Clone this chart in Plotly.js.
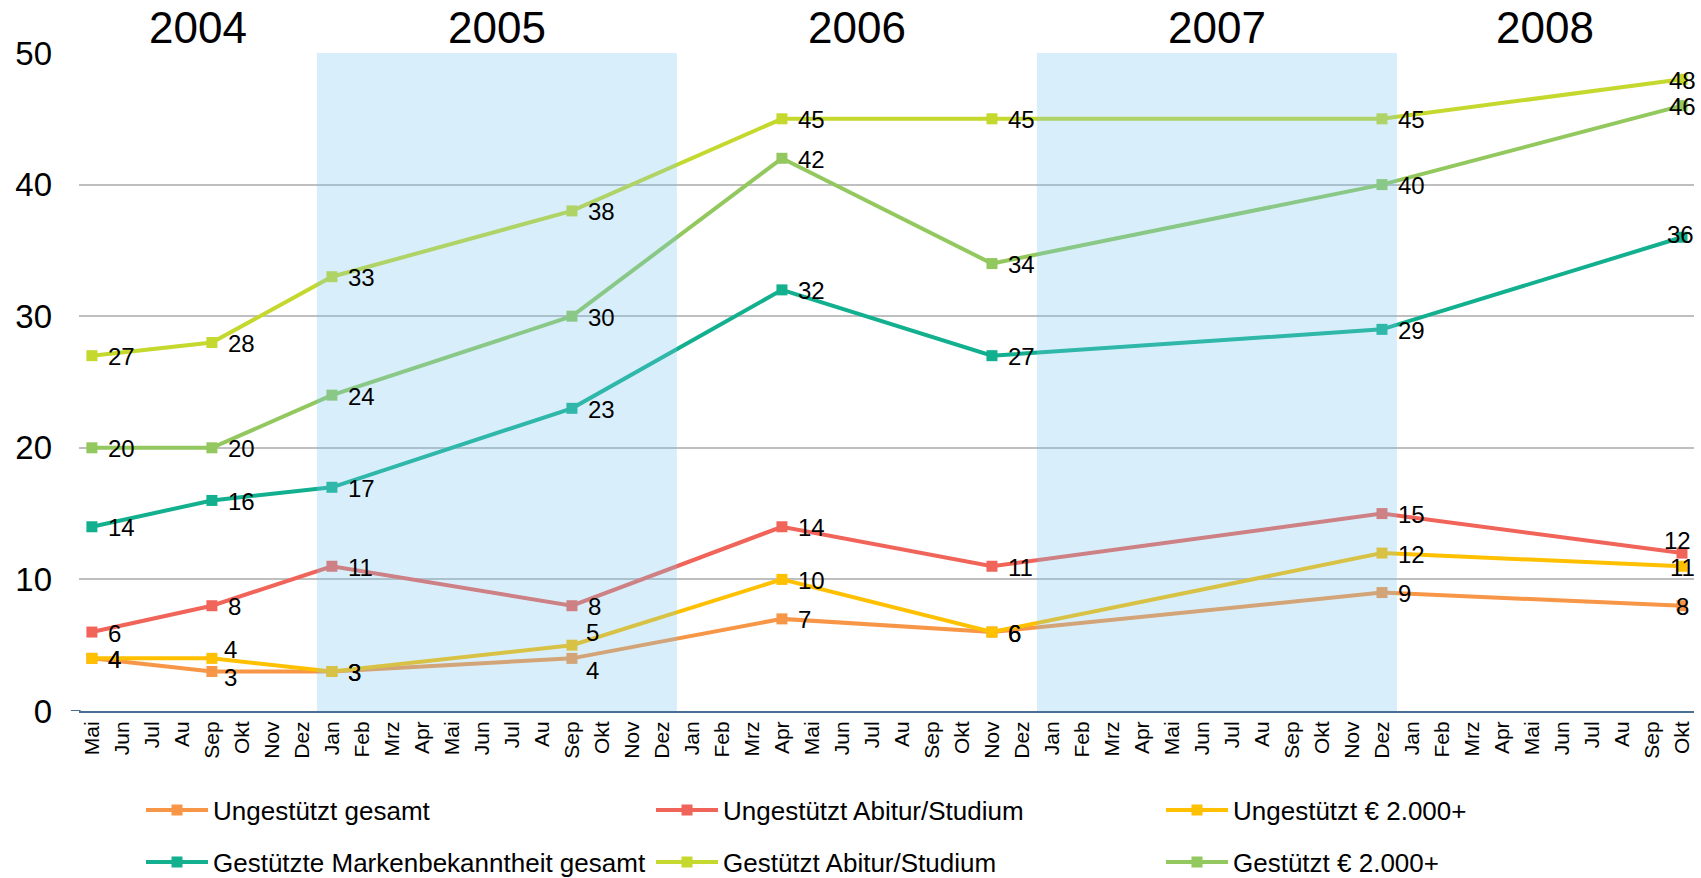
<!DOCTYPE html>
<html><head><meta charset="utf-8">
<script src="https://cdn.plot.ly/plotly-3.0.1.min.js"></script>
<style>html,body{margin:0;padding:0;background:#fff;} #chart{width:1701px;height:878px;}</style>
</head><body><div id="chart"></div>
<script>
// ---- data ----
const yearLabels = ['2004', '2005', '2006', '2007', '2008'];
const monthsPerYear = [8, 12, 12, 12, 10];
const monthLabels = [
  'Mai','Jun','Jul','Au','Sep','Okt','Nov','Dez',
  'Jan','Feb','Mrz','Apr','Mai','Jun','Jul','Au','Sep','Okt','Nov','Dez',
  'Jan','Feb','Mrz','Apr','Mai','Jun','Jul','Au','Sep','Okt','Nov','Dez',
  'Jan','Feb','Mrz','Apr','Mai','Jun','Jul','Au','Sep','Okt','Nov','Dez',
  'Jan','Feb','Mrz','Apr','Mai','Jun','Jul','Au','Sep','Okt'
];
const surveyDates = ['Mai 2004','Sep 2004','Jan 2005','Sep 2005','Apr 2006','Nov 2006','Dez 2007','Okt 2008'];
const shadedYears = ['2005', '2007'];

const seriesNames = [
  'Ungestützt gesamt',
  'Ungestützt Abitur/Studium',
  'Ungestützt € 2.000+',
  'Gestützte Markenbekanntheit gesamt',
  'Gestützt Abitur/Studium',
  'Gestützt € 2.000+'
];
const ungestuetztGesamt   = [4, 3, 3, 4, 7, 6, 9, 8];
const ungestuetztAbitur   = [6, 8, 11, 8, 14, 11, 15, 12];
const ungestuetzt2000     = [4, 4, 3, 5, 10, 6, 12, 11];
const gestuetztGesamt     = [14, 16, 17, 23, 32, 27, 29, 36];
const gestuetztAbitur     = [27, 28, 33, 38, 45, 45, 45, 48];
const gestuetzt2000       = [20, 20, 24, 30, 42, 34, 40, 46];

// ---- styles ----
const colors = ['#F79646', '#F0645A', '#FFC000', '#12B08E', '#C5D82E', '#92C85E'];
// label placement per point: [xanchor, xshift(px), yshift(px)]
const Rt = ['left', 14, -1];
const Ct = ['center', 0, -1];
const labelPlace = [
  [Rt, ['left', 10, -6], Rt, ['left', 12, -12], Rt, Rt, Rt, Ct],
  [Rt, Rt, Rt, Rt, Rt, Rt, Rt, ['center', -5, 13]],
  [Rt, ['left', 10, 9], Rt, ['left', 12, 13], Rt, Rt, Rt, Ct],
  [Rt, Rt, Rt, Rt, Rt, Rt, Rt, ['center', -2, 3]],
  [Rt, Rt, Rt, Rt, Rt, Rt, Rt, Ct],
  [Rt, Rt, Rt, Rt, Rt, Rt, Rt, Ct]
];
const FONT = 'Liberation Sans, Arial, sans-serif';

// category keys (unique per month)
const monthKeys = [];
{
  let k = 0;
  yearLabels.forEach((y, yi) => {
    for (let j = 0; j < monthsPerYear[yi]; j++) { monthKeys.push(monthLabels[k] + ' ' + y); k++; }
  });
}
// year spans in category index units
const yearSpans = [];
{
  let start = 0;
  monthsPerYear.forEach((n) => { yearSpans.push([start - 0.5, start + n - 0.5]); start += n; });
}
const xRange = [-0.43, 53.4];

const allSeries = [ungestuetztGesamt, ungestuetztAbitur, ungestuetzt2000, gestuetztGesamt, gestuetztAbitur, gestuetzt2000];
const traces = allSeries.map((vals, i) => ({
  type: 'scatter',
  mode: 'lines+markers',
  name: seriesNames[i],
  x: surveyDates,
  y: vals,
  line: {color: colors[i], width: 4},
  marker: {symbol: 'square', size: 11, color: colors[i]},
  cliponaxis: false,
  hoverinfo: 'x+y+name',
  legend: i < 3 ? 'legend' : 'legend2'
}));

const shapes = shadedYears.map(y => {
  const s = yearSpans[yearLabels.indexOf(y)];
  return {type: 'rect', xref: 'x', yref: 'y', x0: s[0], x1: s[1], y0: 0, y1: 50,
          fillcolor: 'rgba(120,200,240,0.29)', line: {width: 0}, layer: 'above'};
});
// small extension of the x axis line to the left, as in the original
shapes.push({type: 'line', xref: 'paper', yref: 'y', x0: -0.005, x1: 0.001, y0: 0, y1: 0,
             line: {color: '#4A6F94', width: 2}, layer: 'above'});

const annotations = yearLabels.map((y, i) => {
  const s = yearSpans[i];
  const x0 = Math.max(s[0], xRange[0]), x1 = Math.min(s[1], xRange[1]);
  return {text: y, xref: 'x', yref: 'paper', x: (x0 + x1) / 2, y: 1.039, yanchor: 'middle', xanchor: 'center',
          showarrow: false, font: {family: FONT, size: 44, color: '#000'}};
});
allSeries.forEach((vals, i) => {
  vals.forEach((v, j) => {
    const p = labelPlace[i][j];
    annotations.push({text: String(v), xref: 'x', yref: 'y', x: surveyDates[j], y: v,
      xanchor: p[0], yanchor: 'middle', xshift: p[1], yshift: p[2], showarrow: false,
      font: {family: FONT, size: 24, color: '#000'}});
  });
});

const legendBase = {
  orientation: 'h', xref: 'container', yref: 'container', xanchor: 'left', yanchor: 'middle',
  entrywidth: 433, entrywidthmode: 'pixels', itemwidth: 62,
  font: {family: FONT, size: 26, color: '#000'}, bgcolor: 'rgba(0,0,0,0)', traceorder: 'normal'
};

const layout = {
  width: 1701, height: 878,
  margin: {l: 79, r: 7, t: 53, b: 167},
  paper_bgcolor: '#fff', plot_bgcolor: '#fff',
  font: {family: FONT, color: '#000'},
  showlegend: true,
  xaxis: {
    type: 'category', categoryorder: 'array', categoryarray: monthKeys,
    tickmode: 'array', tickvals: monthKeys, ticktext: monthLabels,
    tickangle: -90, tickfont: {family: FONT, size: 21, color: '#000'},
    range: xRange, showgrid: false, zeroline: false,
    showline: true, linecolor: '#4A6F94', linewidth: 2, ticks: '', ticklabelstandoff: 0
  },
  yaxis: {
    range: [0, 50], tickmode: 'array', tickvals: [0, 10, 20, 30, 40, 50],
    showgrid: true, gridcolor: '#BFBFBF', gridwidth: 2, zeroline: false, showline: false,
    ticks: '', tickfont: {family: FONT, size: 33, color: '#000'}, ticklabelstandoff: 26
  },
  shapes: shapes,
  annotations: annotations,
  legend: Object.assign({}, legendBase, {x: 141 / 1701, y: 1 - 810 / 878}),
  legend2: Object.assign({}, legendBase, {x: 141 / 1701, y: 1 - 862 / 878})
};

Plotly.newPlot('chart', traces, layout, {displayModeBar: false, staticPlot: true});
</script>
</body></html>
